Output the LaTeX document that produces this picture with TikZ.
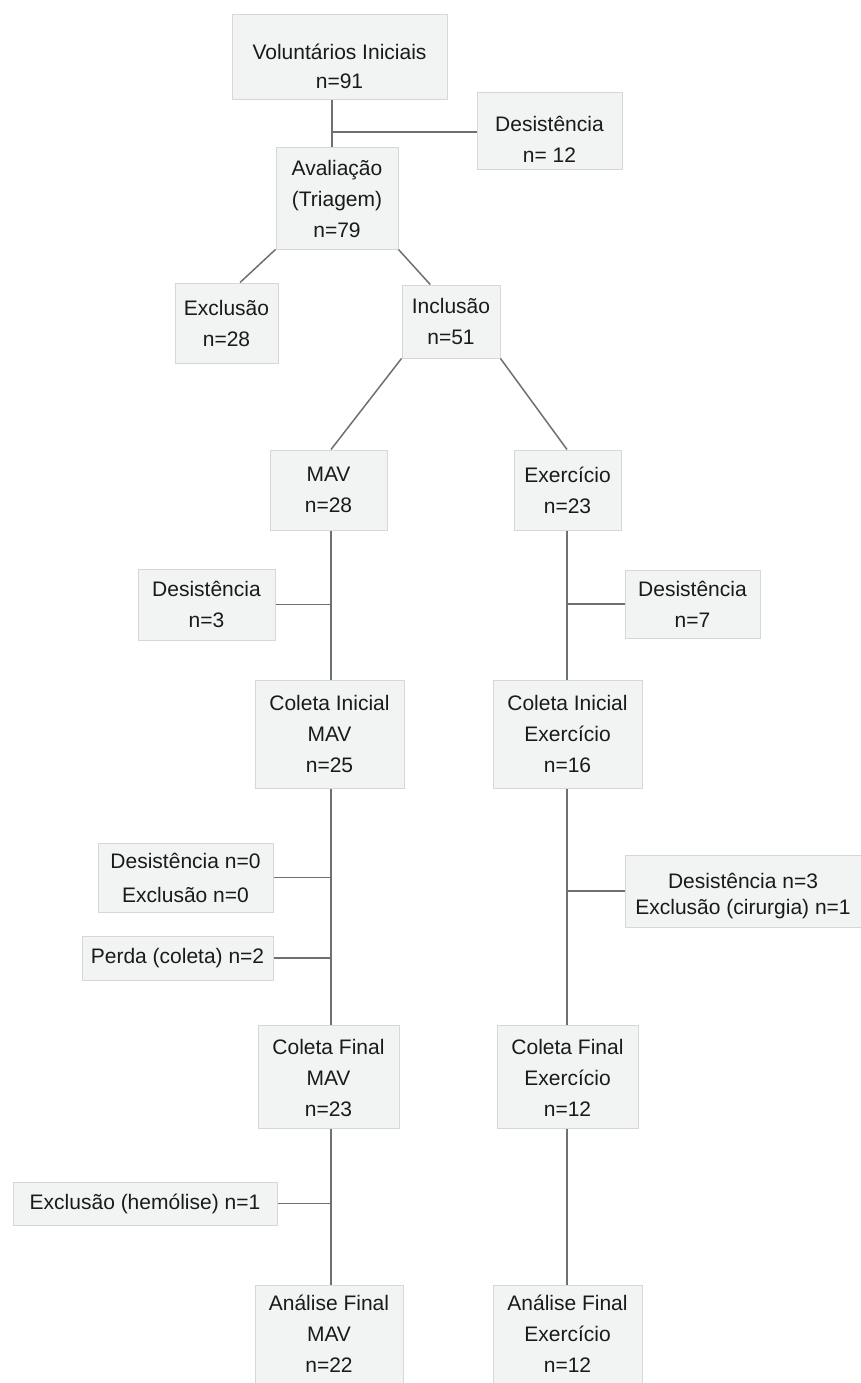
\documentclass[tikz,border=0pt]{standalone}
\usepackage{fontspec}
\setmainfont{Liberation Sans}
\usetikzlibrary{calc}
\definecolor{boxfill}{HTML}{F2F3F3}
\definecolor{boxline}{HTML}{D6D8D8}
\definecolor{connc}{HTML}{6E7171}
\definecolor{txt}{HTML}{1A1A1A}
\newcommand{\lowered}[2]{\raisebox{-#1}[\height][\depth]{\begin{tabular}{@{}c@{}}#2\end{tabular}}}
\begin{document}
\begin{tikzpicture}[x=1pt,y=-1pt,
  box/.style={draw=boxline, fill=boxfill, line width=1pt, align=center, inner sep=0pt,
    font=\fontsize{21}{31}\selectfont, text=txt},
  conn/.style={draw=connc, line width=1.5pt}]
\useasboundingbox (0,0) rectangle (861,1383);
\fill[white] (0,0) rectangle (861,1383);
\coordinate (T) at (332,0);
\coordinate (L) at (331,0);
\coordinate (R) at (567,0);
% nodes
\node[box, minimum width=215, minimum height=85] (vol) at (339.5,57.5) {\lowered{10pt}{Voluntários Iniciais\\[-2pt]n=91}};
\node[box, minimum width=145, minimum height=77] (des1) at (549.5,131.5) {\lowered{9pt}{Desistência\\n= 12}};
\node[box, minimum width=122, minimum height=101] (aval) at (337,198.5) {Avaliação\\(Triagem)\\n=79};
\node[box, minimum width=103, minimum height=80] (excl) at (226.5,323) {Exclusão\\n=28};
\node[box, minimum width=98, minimum height=73] (incl) at (451,321.5) {Inclusão\\n=51};
\node[box, minimum width=117, minimum height=80] (mav) at (328.5,490) {MAV\\n=28};
\node[box, minimum width=107, minimum height=80] (exe) at (567.5,490) {Exercício\\n=23};
\node[box, minimum width=137, minimum height=71] (des3) at (206.5,604.5) {Desistência\\n=3};
\node[box, minimum width=135, minimum height=68] (des7) at (692.5,604) {Desistência\\n=7};
\node[box, minimum width=149, minimum height=108] (ciM) at (329.5,734) {Coleta Inicial\\MAV\\n=25};
\node[box, minimum width=149, minimum height=108] (ciE) at (567.5,734) {Coleta Inicial\\Exercício\\n=16};
\node[box, minimum width=175, minimum height=69] (dex0) at (185.5,877.5) {Desistência n=0\\[3pt]Exclusão n=0};
\node[box, minimum width=191, minimum height=44] (perda) at (177.5,958) {Perda (coleta) n=2};
\node[box, minimum width=236, minimum height=72] (dexc) at (743,891) {\lowered{4pt}{Desistência n=3\\[-5pt]Exclusão (cirurgia) n=1}};
\node[box, minimum width=141, minimum height=103] (cfM) at (328.5,1076.5) {\lowered{3pt}{Coleta Final\\MAV\\n=23}};
\node[box, minimum width=141, minimum height=103] (cfE) at (567.5,1076.5) {\lowered{3pt}{Coleta Final\\Exercício\\n=12}};
\node[box, minimum width=264, minimum height=43] (hem) at (145,1203.5) {Exclusão (hemólise) n=1};
\node[box, minimum width=148, minimum height=98] (afM) at (329,1334) {Análise Final\\MAV\\n=22};
\node[box, minimum width=149, minimum height=98] (afE) at (567.5,1334) {Análise Final\\Exercício\\n=12};
% connectors
\coordinate (j1) at (332,132);
\draw[conn] (vol.south -| T) -- (aval.north -| T);
\draw[conn] (j1) -- (j1 -| des1.west);
\draw[conn] (aval.south west) -- ($(excl.north west)!0.63!(excl.north east)$);
\draw[conn] (aval.south east) -- ($(incl.north west)!0.29!(incl.north east)$);
\draw[conn] (incl.south west) -- (mav.north -| L);
\draw[conn] (incl.south east) -- (exe.north -| R);
\draw[conn] (mav.south -| L) -- (ciM.north -| L);
\draw[conn] (ciM.south -| L) -- (cfM.north -| L);
\draw[conn] (cfM.south -| L) -- (afM.north -| L);
\draw[conn] (exe.south -| R) -- (ciE.north -| R);
\draw[conn] (ciE.south -| R) -- (cfE.north -| R);
\draw[conn] (cfE.south -| R) -- (afE.north -| R);
\draw[conn] (des3.east) -- (des3.east -| L);
\draw[conn] (dex0.east) -- (dex0.east -| L);
\draw[conn] (perda.east) -- (perda.east -| L);
\draw[conn] (hem.east) -- (hem.east -| L);
\draw[conn] (des7.west) -- (des7.west -| R);
\draw[conn] (dexc.west) -- (dexc.west -| R);
\end{tikzpicture}
\end{document}
